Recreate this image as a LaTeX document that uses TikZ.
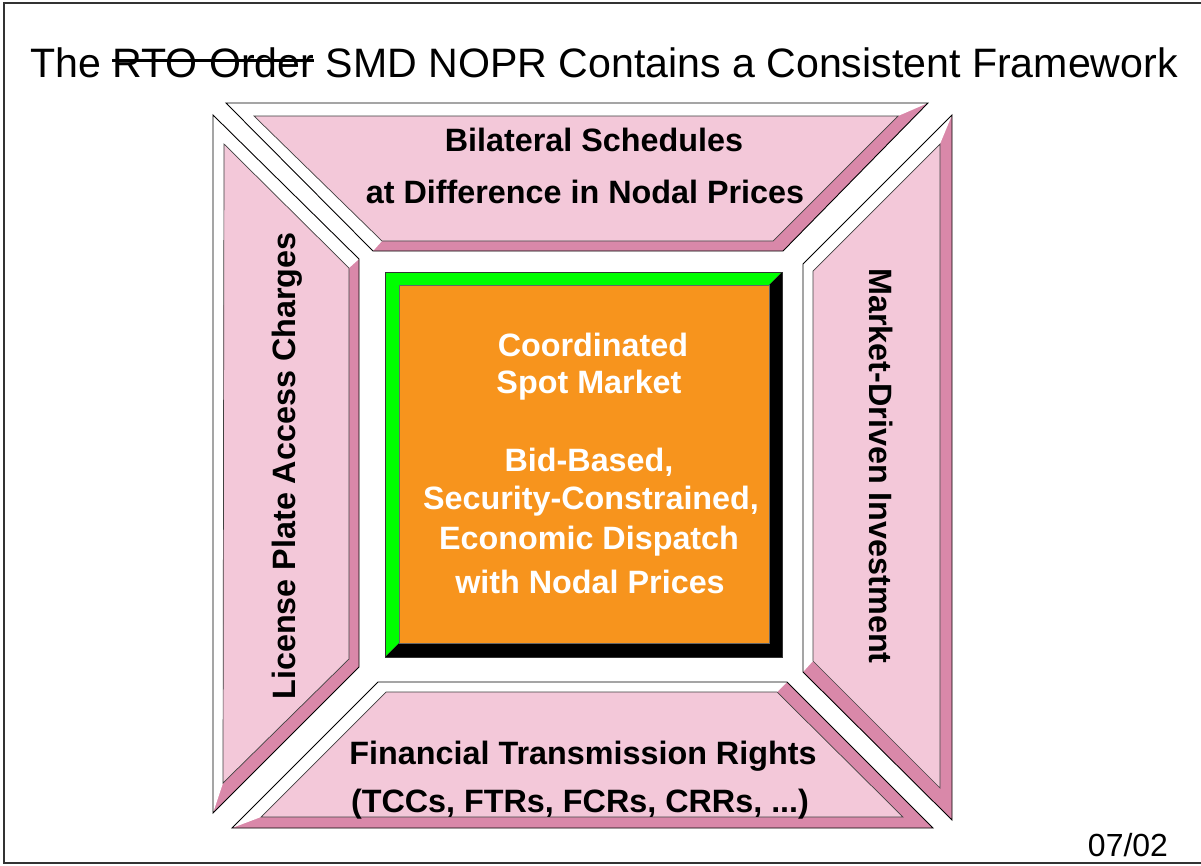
\documentclass[tikz,border=0pt]{standalone}
\usepackage{fontspec}
\setmainfont{Liberation Sans}
\definecolor{facepink}{RGB}{243,200,217}
\definecolor{bevelpink}{RGB}{217,136,169}
\definecolor{spotorange}{RGB}{247,148,29}
\definecolor{rimgreen}{RGB}{0,255,0}
\newcommand{\strikeout}[1]{\setbox0\hbox{#1}\rlap{\rule[0.36em]{\wd0}{0.07em}}\box0\relax}

\begin{document}
\begin{tikzpicture}[x=0.02cm,y=-0.02cm]
\tikzstyle{dark}=[fill=bevelpink]
\tikzstyle{light}=[fill=white]
\tikzstyle{face}=[fill=facepink,draw=black!75,line width=0.4pt]
\tikzstyle{rim}=[draw=black,line width=0.5pt]
\tikzstyle{bold}=[anchor=base,inner sep=0pt,font=\fontsize{18.4}{22}\selectfont\bfseries]
\tikzstyle{spot}=[bold,text=white]

\useasboundingbox (0,0) rectangle (1201,866);
\draw[black!80,line width=0.8pt] (1201,3) -- (4,3) -- (4,863) -- (1201,863);

% top panel
\fill[dark] (226,103) -- (928,103) -- (783,251) -- (373,251) -- cycle;
\fill[light] (373,251) -- (226,103) -- (928,103) -- (898,116) -- (254,116) -- (382,241) -- cycle;
\filldraw[face] (254,116) -- (898,116) -- (773,241) -- (382,241) -- cycle;
\draw[rim] (226,103) -- (928,103) -- (783,251) -- (373,251) -- cycle;

% left panel
\fill[dark] (213,115) -- (359,259) -- (359,667) -- (213,813) -- cycle;
\fill[light] (213,813) -- (213,115) -- (359,259) -- (349,268) -- (224,144) -- (223,783) -- cycle;
\filldraw[face] (224,144) -- (349,268) -- (349,659) -- (223,783) -- cycle;
\draw[rim] (213,115) -- (359,259) -- (359,667) -- (213,813) -- cycle;

% right panel
\fill[dark] (803,264) -- (952,115) -- (952,820) -- (803,672) -- cycle;
\fill[light] (803,672) -- (803,264) -- (952,115) -- (940,144) -- (813,271) -- (813,661) -- cycle;
\filldraw[face] (813,271) -- (940,144) -- (940,788) -- (813,661) -- cycle;
\draw[rim] (803,264) -- (952,115) -- (952,820) -- (803,672) -- cycle;

% bottom panel
\fill[dark] (378,682) -- (787,682) -- (933,828) -- (232,828) -- cycle;
\fill[light] (232,828) -- (378,682) -- (787,682) -- (777,692) -- (386,692) -- (261,817) -- cycle;
\filldraw[face] (386,692) -- (777,692) -- (903,817) -- (261,817) -- cycle;
\draw[rim] (378,682) -- (787,682) -- (933,828) -- (232,828) -- cycle;

% spot market box
\fill[rimgreen] (385,657) -- (385,272) -- (782,272) -- (769,285) -- (399,285) -- (399,643) -- cycle;
\fill[black] (782,272) -- (782,657) -- (385,657) -- (399,643) -- (769,643) -- (769,285) -- cycle;
\filldraw[fill=spotorange,draw=black!60,line width=0.4pt] (399,285) rectangle (769,643);
\draw[black!80,line width=0.5pt] (385,272) rectangle (782,657);

\node[anchor=base,inner sep=0pt,font=\fontsize{23.4}{28}\selectfont] (title) at (604,77)
  {The \strikeout{RTO Order} SMD NOPR Contains a Consistent Framework};

\node[bold] (bilat) at (594,151) {Bilateral Schedules};
\node[bold] (diff) at (585,203) {at Difference in Nodal Prices};

\node[bold,rotate=90] (license) at (295,466) {License Plate Access Charges};
\node[bold,rotate=-90] (invest) at (869,466) {Market-Driven Investment};

\node[bold] (ftr) at (583,764) {Financial Transmission Rights};
\node[bold] (tcc) at (580,812) {(TCCs, FTRs, FCRs, CRRs, ...)};

\node[spot] (coord) at (593,356) {Coordinated};
\node[spot] (spotmkt) at (589,393) {Spot Market};
\node[spot] (bid) at (589,471) {Bid-Based,};
\node[spot] (secure) at (591,509) {Security-Constrained,};
\node[spot] (econ) at (589,549) {Economic Dispatch};
\node[spot] (nodal) at (590,593) {with Nodal Prices};

\node[anchor=base,inner sep=0pt,font=\fontsize{18.2}{22}\selectfont] (date) at (1128,856) {07/02};
\end{tikzpicture}
\end{document}
